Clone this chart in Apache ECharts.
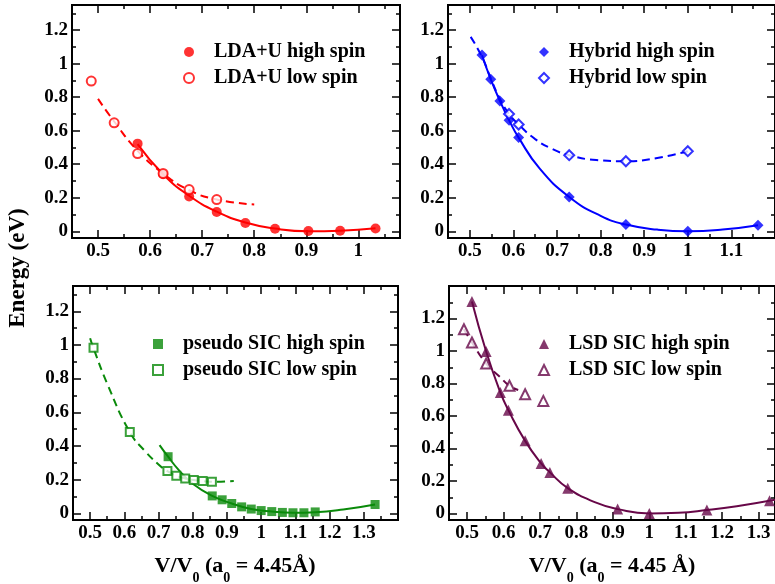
<!DOCTYPE html>
<html>
<head>
<meta charset="utf-8">
<title>Energy vs volume</title>
<script src="https://cdn.jsdelivr.net/npm/echarts@6/dist/echarts.min.js"></script>
<style>
  html, body { margin: 0; padding: 0; background: #fff; }
  #chart { width: 775px; height: 584px; }
</style>
</head>
<body>
<div id="chart"></div>
<script>
// ---- LDA+U (top left) ----
const ldaHighX = [0.576, 0.625, 0.675, 0.728, 0.783, 0.840, 0.904, 0.965, 1.033];
const ldaHighE = [0.523, 0.340, 0.208, 0.115, 0.050, 0.015, 0.002, 0.003, 0.017];
const ldaLowX = [0.487, 0.531, 0.576, 0.625, 0.675, 0.728];
const ldaLowE = [0.896, 0.647, 0.464, 0.345, 0.249, 0.189];
const ldaHighFitX = [0.576, 0.625, 0.675, 0.728, 0.783, 0.840, 0.904, 0.965, 1.033];
const ldaHighFitE = [0.520, 0.340, 0.212, 0.117, 0.052, 0.016, 0.000, 0.003, 0.018];
const ldaLowFitX = [0.500, 0.531, 0.576, 0.625, 0.675, 0.728, 0.800];
const ldaLowFitE = [0.790, 0.655, 0.480, 0.345, 0.245, 0.190, 0.160];

// ---- Hybrid (top right) ----
const hybHighX = [0.528, 0.548, 0.569, 0.590, 0.612, 0.728, 0.858, 1.000, 1.161];
const hybHighE = [1.051, 0.907, 0.778, 0.663, 0.559, 0.205, 0.040, 0.000, 0.036];
const hybLowX = [0.590, 0.612, 0.728, 0.858, 1.000];
const hybLowE = [0.700, 0.637, 0.454, 0.418, 0.478];
const hybHighFitX = [0.528, 0.548, 0.569, 0.590, 0.612, 0.660, 0.728, 0.800, 0.858, 0.930, 1.000, 1.080, 1.161];
const hybHighFitE = [1.050, 0.907, 0.778, 0.663, 0.559, 0.375, 0.205, 0.092, 0.040, 0.010, 0.000, 0.010, 0.036];
const hybLowFitX = [0.502, 0.528, 0.550, 0.570, 0.590, 0.612, 0.650, 0.690, 0.728, 0.790, 0.858, 0.930, 1.000];
const hybLowFitE = [1.160, 1.040, 0.900, 0.785, 0.700, 0.637, 0.550, 0.490, 0.454, 0.425, 0.418, 0.437, 0.478];

// ---- pseudo SIC (bottom left) ----
const psHighX = [0.728, 0.857, 0.886, 0.914, 0.943, 0.971, 1.000, 1.031, 1.062, 1.093, 1.125, 1.158, 1.333];
const psHighE = [0.336, 0.103, 0.080, 0.058, 0.038, 0.025, 0.016, 0.010, 0.005, 0.003, 0.003, 0.008, 0.052];
const psLowX = [0.510, 0.616, 0.726, 0.752, 0.778, 0.803, 0.829, 0.856];
const psLowE = [0.983, 0.482, 0.251, 0.223, 0.207, 0.197, 0.191, 0.187];
const psHighFitX = [0.703, 0.728, 0.760, 0.800, 0.857, 0.914, 0.971, 1.031, 1.093, 1.158, 1.240, 1.333];
const psHighFitE = [0.405, 0.336, 0.255, 0.175, 0.103, 0.058, 0.025, 0.010, 0.003, 0.006, 0.022, 0.052];
const psLowFitX = [0.500, 0.510, 0.550, 0.616, 0.660, 0.700, 0.726, 0.752, 0.778, 0.803, 0.829, 0.856, 0.920];
const psLowFitE = [1.040, 0.980, 0.770, 0.482, 0.370, 0.290, 0.250, 0.223, 0.207, 0.197, 0.191, 0.187, 0.192];

// ---- LSD SIC (bottom right) ----
const lsdHighX = [0.513, 0.552, 0.591, 0.613, 0.659, 0.703, 0.727, 0.776, 0.913, 1.000, 1.158, 1.330];
const lsdHighE = [1.305, 0.997, 0.745, 0.636, 0.447, 0.308, 0.253, 0.156, 0.027, 0.000, 0.021, 0.078];
const lsdLowX = [0.491, 0.513, 0.552, 0.616, 0.659, 0.709];
const lsdLowE = [1.134, 1.052, 0.923, 0.786, 0.734, 0.693];
const lsdHighFitX = [0.513, 0.552, 0.591, 0.613, 0.659, 0.703, 0.727, 0.776, 0.850, 0.913, 1.000, 1.080, 1.158, 1.240, 1.345];
const lsdHighFitE = [1.305, 0.997, 0.745, 0.636, 0.447, 0.308, 0.253, 0.156, 0.070, 0.027, 0.000, 0.004, 0.021, 0.045, 0.085];
const lsdLowFitX = [0.491, 0.513, 0.552, 0.590, 0.616, 0.640];
const lsdLowFitE = [1.134, 1.052, 0.923, 0.840, 0.786, 0.760];

// tick values
const eMajor = [0, 0.2, 0.4, 0.6, 0.8, 1, 1.2];
const eMinor = [0.1, 0.3, 0.5, 0.7, 0.9, 1.1, 1.3];
const vMajor1 = [0.5, 0.6, 0.7, 0.8, 0.9, 1];
const vMinor1 = [0.55, 0.65, 0.75, 0.85, 0.95, 1.05];
const vMajor2 = [0.5, 0.6, 0.7, 0.8, 0.9, 1, 1.1];
const vMinor2 = [0.55, 0.65, 0.75, 0.85, 0.95, 1.05, 1.15];
const vMajor3 = [0.5, 0.6, 0.7, 0.8, 0.9, 1, 1.1, 1.2, 1.3];
const vMinor3 = [0.55, 0.65, 0.75, 0.85, 0.95, 1.05, 1.15, 1.25, 1.35];

const FONT = 'Liberation Serif';
const RED = '#ff0000', BLUE = '#0000ff', GREEN = '#0a8a0a', PLUM = '#670748';
// dash with no gap: looks solid, but keeps zrender from batching the tick lines
const SOLID_NOBATCH = [20, 0];

const chart = echarts.init(document.getElementById('chart'));

const zip = (xs, ys) => xs.map((x, i) => [x, ys[i]]);
const within = (vals, min, max) => vals.filter(v => v > min && v < max);

const grids = [];
const xAxes = [];
const yAxes = [];

// each panel gets 4 x axes and 4 y axes: main/minor ticks, mirrored on the opposite side
function addAxes(list, gi, dim, min, max, major, minor) {
  const sides = dim === 'x' ? ['bottom', 'top'] : ['left', 'right'];
  sides.forEach((pos, s) => {
    [major, minor].forEach((vals, m) => {
      const ticks = within(vals, min, max);
      const ax = {
        type: 'value',
        gridIndex: gi,
        position: pos,
        min: min,
        max: max,
        axisLine: { show: m === 0, onZero: false,
          lineStyle: { color: '#000', width: 2, type: SOLID_NOBATCH } },
        axisTick: { show: true, inside: true, length: m === 0 ? 8 : 4, customValues: ticks,
          lineStyle: { color: '#000', width: 1.5, type: SOLID_NOBATCH } },
        axisLabel: { show: false },
        splitLine: { show: false }
      };
      if (s === 0 && m === 0) {
        ax.axisLabel = { show: true, customValues: ticks, margin: 4,
          fontFamily: FONT, fontWeight: 'bold', fontSize: 19, color: '#000' };
      }
      list.push(ax);
    });
  });
}

function addPanel(box, xr, yr, xMajor, xMinor) {
  const gi = grids.length;
  // grid border draws the frame as well
  grids.push(Object.assign({ show: true, borderColor: '#000', borderWidth: 2,
    backgroundColor: 'transparent' }, box));
  addAxes(xAxes, gi, 'x', xr[0], xr[1], xMajor, xMinor);
  addAxes(yAxes, gi, 'y', yr[0], yr[1], eMajor, eMinor);
  return gi;
}

const p1 = addPanel({ left: 72, top: 5, width: 328, height: 233 }, [0.45, 1.08], [-0.04, 1.35], vMajor1, vMinor1);
const p2 = addPanel({ left: 448, top: 5, width: 328, height: 233 }, [0.45, 1.2], [-0.04, 1.35], vMajor2, vMinor2);
const p3 = addPanel({ left: 73, top: 286, width: 325, height: 234 }, [0.45, 1.4], [-0.04, 1.35], vMajor3, vMinor3);
const p4 = addPanel({ left: 449, top: 286, width: 327, height: 234 }, [0.45, 1.345], [-0.04, 1.4], vMajor3, vMinor3);

function fitLine(gi, xs, ys, color, dashed) {
  return {
    type: 'line', xAxisIndex: gi * 4, yAxisIndex: gi * 4,
    data: zip(xs, ys), smooth: 0.5, showSymbol: false, silent: true,
    lineStyle: { color: color, width: 2, type: dashed ? [8, 5] : 'solid' }, z: 2
  };
}

function points(gi, name, xs, ys, symbol, size, color) {
  const empty = symbol.indexOf('empty') === 0;
  return {
    type: 'scatter', name: name, xAxisIndex: gi * 4, yAxisIndex: gi * 4,
    data: zip(xs, ys), symbol: symbol, symbolSize: size,
    itemStyle: { color: color, borderWidth: empty ? 1.5 : 0, borderColor: color }, z: 3
  };
}

const series = [
  fitLine(p1, ldaHighFitX, ldaHighFitE, RED, false),
  fitLine(p1, ldaLowFitX, ldaLowFitE, RED, true),
  points(p1, 'LDA+U high spin', ldaHighX, ldaHighE, 'circle', 10, RED),
  points(p1, 'LDA+U low spin', ldaLowX, ldaLowE, 'emptyCircle', 9, RED),

  fitLine(p2, hybHighFitX, hybHighFitE, BLUE, false),
  fitLine(p2, hybLowFitX, hybLowFitE, BLUE, true),
  points(p2, 'Hybrid high spin', hybHighX, hybHighE, 'diamond', 11, BLUE),
  points(p2, 'Hybrid low spin', hybLowX, hybLowE, 'emptyDiamond', 10, BLUE),

  fitLine(p3, psHighFitX, psHighFitE, GREEN, false),
  fitLine(p3, psLowFitX, psLowFitE, GREEN, true),
  points(p3, 'pseudo SIC high spin', psHighX, psHighE, 'rect', 9, GREEN),
  points(p3, 'pseudo SIC low spin', psLowX, psLowE, 'emptyRect', 8, GREEN),

  fitLine(p4, lsdHighFitX, lsdHighFitE, PLUM, false),
  fitLine(p4, lsdLowFitX, lsdLowFitE, PLUM, true),
  points(p4, 'LSD SIC high spin', lsdHighX, lsdHighE, 'triangle', 11, PLUM),
  points(p4, 'LSD SIC low spin', lsdLowX, lsdLowE, 'emptyTriangle', 10, PLUM)
];

function legendAt(left, top, names) {
  return {
    orient: 'vertical', left: left, top: top, padding: 0,
    itemWidth: 10, itemHeight: 10, itemGap: 6,
    selectedMode: false,
    textStyle: { fontFamily: FONT, fontWeight: 'bold', fontSize: 20, color: '#000',
      padding: [0, 0, 0, 15] },
    data: names
  };
}

const subRich = {
  m: { fontFamily: FONT, fontWeight: 'bold', fontSize: 22, lineHeight: 22, fill: '#000' },
  s: { fontFamily: FONT, fontWeight: 'bold', fontSize: 14, lineHeight: 14, padding: [24, 0, 0, 0], fill: '#000' }
};

chart.setOption({
  animation: false,
  backgroundColor: '#fff',
  grid: grids,
  xAxis: xAxes,
  yAxis: yAxes,
  legend: [
    legendAt(183, 42, ['LDA+U high spin', 'LDA+U low spin']),
    legendAt(538, 42, ['Hybrid high spin', 'Hybrid low spin']),
    legendAt(152, 334, ['pseudo SIC high spin', 'pseudo SIC low spin']),
    legendAt(538, 334, ['LSD SIC high spin', 'LSD SIC low spin'])
  ],
  graphic: [
    { type: 'text', x: 18, y: 268, rotation: Math.PI / 2,
      style: { text: 'Energy (eV)', fontFamily: FONT, fontWeight: 'bold', fontSize: 23,
        fill: '#000', align: 'center', verticalAlign: 'middle' } },
    { type: 'text', x: 235, y: 566,
      style: { text: '{m|V/V}{s|0}{m| (a}{s|0}{m| = 4.45Å)}', rich: subRich,
        align: 'center', verticalAlign: 'middle' } },
    { type: 'text', x: 612, y: 566,
      style: { text: '{m|V/V}{s|0}{m| (a}{s|0}{m| = 4.45 Å)}', rich: subRich,
        align: 'center', verticalAlign: 'middle' } }
  ],
  series: series
});
</script>
</body>
</html>
